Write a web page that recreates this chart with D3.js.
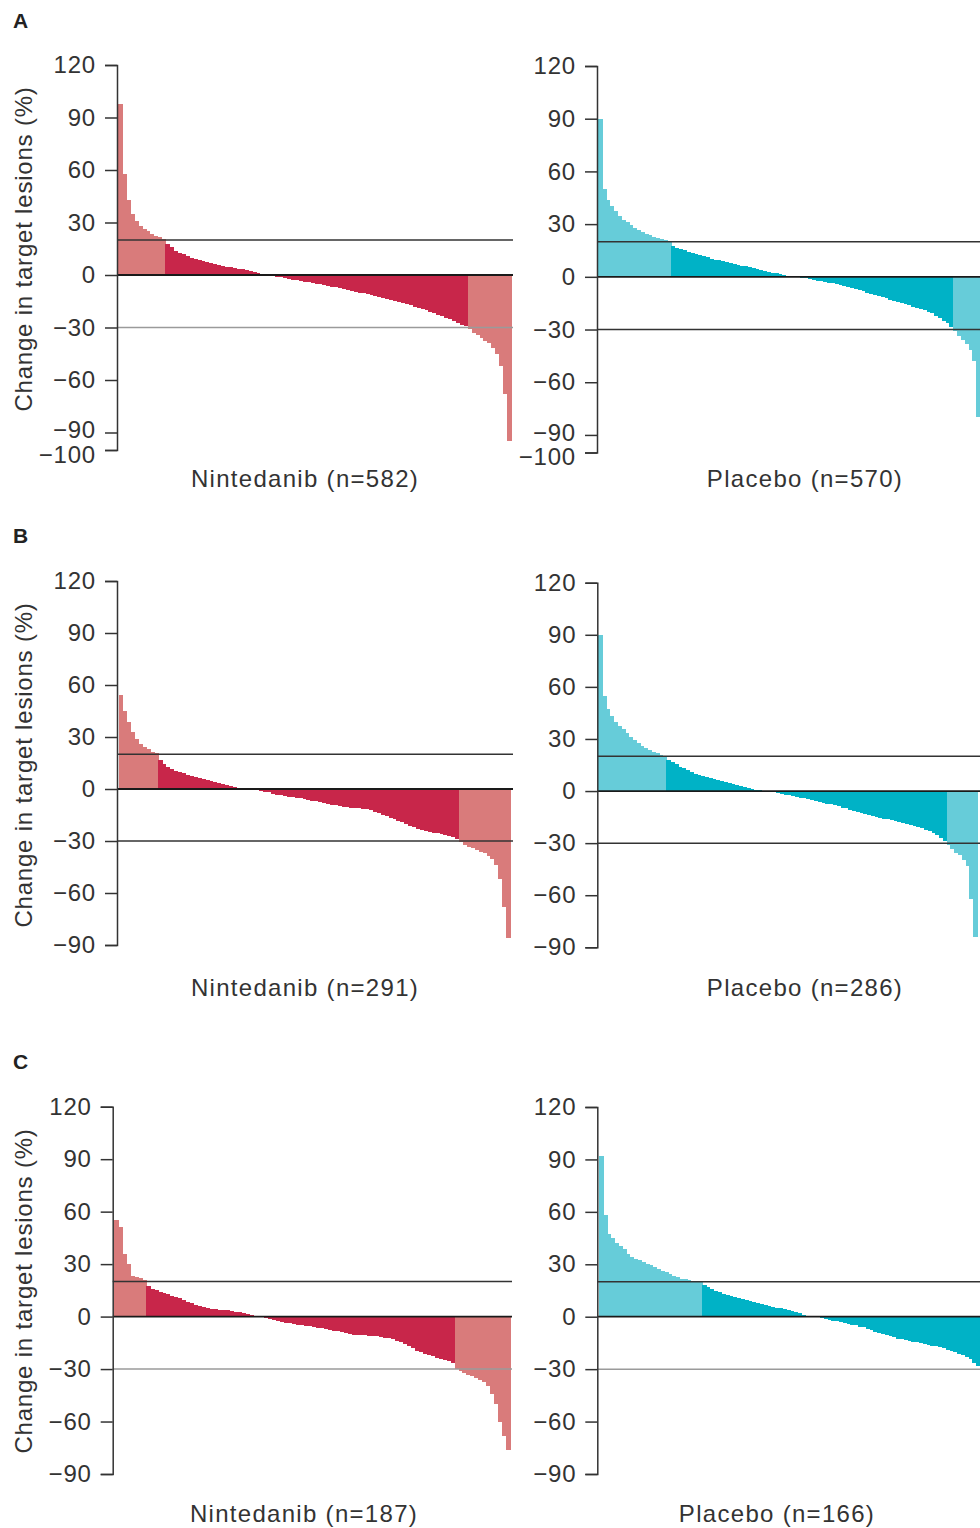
<!DOCTYPE html>
<html>
<head>
<meta charset="utf-8">
<script src="https://cdn.jsdelivr.net/npm/d3@7"></script>
<style>
  html, body { margin: 0; padding: 0; background: #fff; }
  svg { display: block; }
</style>
</head>
<body>
<svg id="chart" width="980" height="1528"></svg>
<script>
// Best percentage change in target lesions, sorted from largest increase to
// largest decrease, read along the patient rank of each arm.
const nintedanibA = [98, 58, 43, 35, 31, 28, 26.5, 25, 23.5, 22.5,
  21.5, 20.5, 18, 16, 14, 12.8, 11.8, 11, 10, 9.3,
  8.7, 8, 7.4, 6.8, 6.2, 5.8, 5.3, 4.8, 4.4, 4,
  3.6, 3.2, 2.8, 2.3, 1.8, 1.3, 0.8, 0.3, -0.2, -0.5,
  -1, -1.4, -1.8, -2.2, -2.6, -3, -3.4, -3.8, -4.2, -4.6,
  -5, -5.4, -5.8, -6.2, -6.6, -7, -7.5, -8, -8.5, -9,
  -9.5, -10, -10.5, -11, -11.5, -12, -12.5, -13, -13.6, -14.2,
  -14.8, -15.4, -16, -16.6, -17.3, -18, -18.7, -19.4, -20.2, -21,
  -21.8, -22.6, -23.5, -24.4, -25.4, -26.4, -27.4, -28.4, -29.4, -31,
  -33, -34.5, -36, -37.5, -39, -41.5, -45, -52, -68, -95];

const placeboA = [90, 50, 44, 40.5, 37.5, 34.5, 32.5, 31, 29.5, 27.8,
  26.5, 25.3, 24.5, 23.6, 22.9, 22.3, 21.6, 21, 20.1, 17.5,
  16.6, 15.8, 15, 14.2, 13.5, 12.8, 12.2, 11.6, 11, 10.4,
  9.8, 9.3, 8.8, 8.3, 7.8, 7.3, 6.8, 6.4, 5.9, 5.4,
  4.9, 4.3, 3.8, 3.3, 2.9, 2.4, 1.9, 1.4, 1, 0.6,
  0.2, 0, -0.2, -0.5, -0.9, -1.3, -1.7, -2.1, -2.5, -2.9,
  -3.3, -3.7, -4.1, -4.6, -5.2, -5.8, -6.4, -7.1, -7.7, -8.3,
  -9, -9.7, -10.3, -11, -11.6, -12.3, -13, -13.6, -14.3, -14.9,
  -15.6, -16.3, -17, -17.6, -18.3, -19, -19.8, -20.8, -22.2, -23.5,
  -25, -26.5, -28.3, -30.8, -33.5, -35.8, -38.5, -41.5, -48, -80];

const nintedanibB = [54, 45, 38.5, 33, 29, 26, 24.3, 22.9, 21.6, 20.5,
  16.7, 14.5, 12.6, 11.5, 10.5, 9.8, 9, 8.3, 7.6, 7,
  6.4, 5.8, 5.2, 4.6, 4, 3.4, 2.8, 2.3, 1.7, 1.2,
  0.5, 0.2, 0, -0.2, -0.4, -0.7, -1.1, -1.5, -2, -2.6,
  -3.2, -3.7, -4.1, -4.5, -4.8, -5.1, -5.4, -5.8, -6.3, -6.8,
  -7.2, -7.7, -8.1, -8.6, -9, -9.4, -9.8, -10.1, -10.4, -10.7,
  -11, -11.2, -11.5, -11.7, -12.3, -13.2, -14.1, -14.9, -15.7, -16.6,
  -17.5, -18.4, -19.3, -20.2, -21.1, -22, -22.8, -23.4, -24, -24.6,
  -25.2, -25.6, -26, -26.5, -27, -27.7, -28.6, -30.5, -32.5, -33.5,
  -34.3, -35.2, -36.2, -37.2, -38.5, -40.5, -44, -52, -68, -86];

const placeboB = [90, 55, 47, 43.5, 40, 37.5, 35.5, 33.2, 31.2, 29.5,
  27.5, 26, 24.6, 23.5, 22.6, 21.8, 21, 20.4, 18, 16.6,
  15.3, 14.1, 13, 12, 11, 10.1, 9.3, 8.5, 8, 7.4,
  6.8, 6.2, 5.6, 5, 4.5, 3.8, 3.2, 2.8, 2.3, 1.8,
  1.3, 0.8, 0.4, 0.1, 0, -0.2, -0.5, -1, -1.5, -2,
  -2.5, -3, -3.4, -3.8, -4.2, -4.6, -5.1, -5.6, -6.2, -6.7,
  -7.2, -7.7, -8.3, -8.9, -9.5, -10, -10.7, -11.3, -12, -12.6,
  -13.2, -13.8, -14.4, -15, -15.4, -15.9, -16.3, -16.7, -17.1, -17.6,
  -18.2, -18.8, -19.3, -19.9, -20.6, -21.4, -22.3, -23.3, -24.3, -25.5,
  -26.8, -28.5, -30.8, -33.5, -35.4, -37, -39.5, -43, -62, -84];

const nintedanibC = [55, 51, 36, 30, 23, 22.5, 21.8, 21, 17.5, 16,
  15, 14.3, 13.6, 12.9, 12, 11.2, 10.5, 9.5, 8.5, 7.6,
  6.9, 6.3, 5.7, 5, 4.5, 4.2, 3.9, 3.7, 3.5, 3.3,
  2.8, 2.4, 2, 1.5, 0.8, 0.2, 0, -0.2, -0.6, -1.4,
  -2, -2.6, -3.1, -3.5, -3.8, -4.2, -4.6, -5, -5.3, -5.6,
  -6, -6.4, -6.7, -7, -7.5, -8, -8.5, -9, -9.5, -10,
  -10.3, -10.5, -10.7, -10.8, -10.9, -11, -11.3, -11.7, -12.1, -12.4,
  -13, -13.8, -14.8, -15.8, -17, -18.2, -19.4, -20.5, -21.4, -22.1,
  -22.8, -23.4, -24, -24.8, -25.6, -26.5, -30.2, -31, -32.3, -33.6,
  -34.2, -35.2, -36.2, -37.3, -39.5, -44, -50, -60, -68, -76];

const placeboC = [92, 58, 47.6, 45, 42, 40.4, 39, 36, 34.3, 33.2,
  32.2, 31.3, 30.4, 29.4, 28.4, 27.3, 26.2, 25.3, 24.4, 23.5,
  22.6, 21.8, 21.3, 21, 20.7, 20.4, 20.1, 18, 16.9, 16,
  14.8, 13.9, 13.1, 12.5, 11.9, 11.3, 10.8, 10.3, 9.8, 9.2,
  8.5, 7.8, 7.1, 6.5, 6, 5.5, 5.1, 4.8, 4.2, 3.6,
  3, 2.5, 1.9, 1.2, 0.5, 0.2, 0, -0.2, -0.6, -1.2,
  -1.8, -2.3, -2.7, -3.1, -3.5, -4, -4.5, -5, -5.6, -6.1,
  -6.8, -7.6, -8.5, -9.3, -10, -10.6, -11.2, -11.8, -12.5, -13,
  -13.4, -13.9, -14.3, -14.7, -15.1, -15.5, -16, -16.5, -17, -17.5,
  -18.1, -18.8, -19.5, -20.3, -21.1, -21.9, -23, -24.3, -26.2, -28.2];

// Arm names and patient counts per panel
const armNames = ["Nintedanib", "Placebo"];
const countsA = [582, 570];
const countsB = [291, 286];
const countsC = [187, 166];
const panelLetters = ["A", "B", "C"];

// Y tick labels
const ticksA = [120, 90, 60, 30, 0, -30, -60, -90, -100];
const ticksBC = [120, 90, 60, 30, 0, -30, -60, -90];

// Reference cut-offs: +20% (progression), 0, -30% (response)
const progressionCut = 20;
const responseCut = -30;

const FONT = "Arial, 'Liberation Sans', Helvetica, sans-serif";
const palette = {
  Nintedanib: { dark: "#C8264A", light: "#D97B7B" },
  Placebo:    { dark: "#00B2C6", light: "#66CCD9" }
};

const svg = d3.select("#chart");

// Panel placement
const panels = [
  { values: nintedanibA, arm: 0, n: countsA[0], ticks: ticksA, yMin: -100,
    axisX: 117, x0: 118, x1: 511, lineEnd: 513, yTop: 65, yBottom: 450,
    labelX: 305, labelY: 487, cutColor: "#9a9a9a" },
  { values: placeboA, arm: 1, n: countsA[1], ticks: ticksA, yMin: -100,
    axisX: 597, x0: 598, x1: 980, lineEnd: 980, yTop: 66, yBottom: 452.5,
    labelX: 805, labelY: 487, cutColor: "#333" },
  { values: nintedanibB, arm: 0, n: countsB[0], ticks: ticksBC, yMin: -90,
    axisX: 117, x0: 118.5, x1: 510, lineEnd: 513, yTop: 581, yBottom: 945,
    labelX: 305, labelY: 996, cutColor: "#333" },
  { values: placeboB, arm: 1, n: countsB[1], ticks: ticksBC, yMin: -90,
    axisX: 597.3, x0: 598, x1: 977, lineEnd: 980, yTop: 582.7, yBottom: 947.3,
    labelX: 805, labelY: 996, cutColor: "#333" },
  { values: nintedanibC, arm: 0, n: countsC[0], ticks: ticksBC, yMin: -90,
    axisX: 112.7, x0: 114, x1: 510, lineEnd: 512, yTop: 1106.7, yBottom: 1474,
    labelX: 304, labelY: 1522, cutColor: "#9a9a9a" },
  { values: placeboC, arm: 1, n: countsC[1], ticks: ticksBC, yMin: -90,
    axisX: 597.3, x0: 599, x1: 980, lineEnd: 980, yTop: 1107, yBottom: 1474,
    labelX: 777, labelY: 1522, cutColor: "#9a9a9a" }
];

// Row-level labels
const rows = [
  { letterY: 28, titleY: 249 },
  { letterY: 543, titleY: 765 },
  { letterY: 1069, titleY: 1291 }
];

const fmt = d => d < 0 ? "\u2212" + Math.abs(d) : String(d);

panels.forEach(p => {
  const arm = armNames[p.arm];
  const colors = palette[arm];
  const g = svg.append("g");

  const y = d3.scaleLinear().domain([p.yMin, 120]).range([p.yBottom, p.yTop]);
  const x = d3.scaleBand().domain(d3.range(p.values.length))
    .range([p.x0, p.x1]).padding(0);

  // waterfall bars
  g.append("g").attr("shape-rendering", "crispEdges")
    .selectAll("rect").data(p.values).join("rect")
    .attr("x", (d, i) => x(i))
    .attr("width", x.bandwidth() + 1)
    .attr("y", d => y(Math.max(0, d)))
    .attr("height", d => Math.abs(y(d) - y(0)))
    .attr("fill", d => (d >= progressionCut || d <= responseCut) ? colors.light : colors.dark);

  // reference lines
  const refs = [
    { v: progressionCut, c: "#333", w: 1.5 },
    { v: 0, c: "#1a1a1a", w: 1.8 },
    { v: responseCut, c: p.cutColor, w: 1.5 }
  ];
  g.append("g").selectAll("line").data(refs).join("line")
    .attr("x1", p.axisX).attr("x2", p.lineEnd)
    .attr("y1", d => y(d.v)).attr("y2", d => y(d.v))
    .attr("stroke", d => d.c).attr("stroke-width", d => d.w);

  // y axis
  const axis = d3.axisLeft(y).tickValues(p.ticks).tickFormat(fmt)
    .tickSize(12).tickSizeOuter(12).tickPadding(9);
  const ag = g.append("g")
    .attr("transform", `translate(${p.axisX},0)`)
    .call(axis)
    .attr("font-family", FONT)
    .attr("font-size", 24);
  ag.select(".domain").attr("stroke", "#333").attr("stroke-width", 1.5);
  ag.selectAll(".tick line").attr("stroke", "#333").attr("stroke-width", 1.5);
  ag.selectAll(".tick text").attr("fill", "#333").style("letter-spacing", "0.8px");
  // the -90 and -100 ticks sit close together: spread their labels apart
  if (p.yMin === -100) {
    ag.selectAll(".tick text")
      .filter(d => d === -90).attr("dy", "0.22em");
    ag.selectAll(".tick text")
      .filter(d => d === -100).attr("dy", "0.5em");
  }

  // arm label under the panel
  g.append("text")
    .attr("x", p.labelX).attr("y", p.labelY)
    .attr("text-anchor", "middle")
    .attr("font-family", FONT).attr("font-size", 24)
    .style("letter-spacing", "1.3px")
    .attr("fill", "#333")
    .text(`${arm} (n=${p.n})`);
});

rows.forEach((r, i) => {
  svg.append("text")
    .attr("x", 13).attr("y", r.letterY)
    .attr("font-family", FONT).attr("font-size", 21).attr("font-weight", "bold")
    .attr("fill", "#222")
    .text(panelLetters[i]);

  svg.append("text")
    .attr("transform", `translate(32,${r.titleY}) rotate(-90)`)
    .attr("text-anchor", "middle")
    .attr("font-family", FONT).attr("font-size", 24)
    .style("letter-spacing", "0.8px")
    .attr("fill", "#333")
    .text("Change in target lesions (%)");
});
</script>
</body>
</html>
